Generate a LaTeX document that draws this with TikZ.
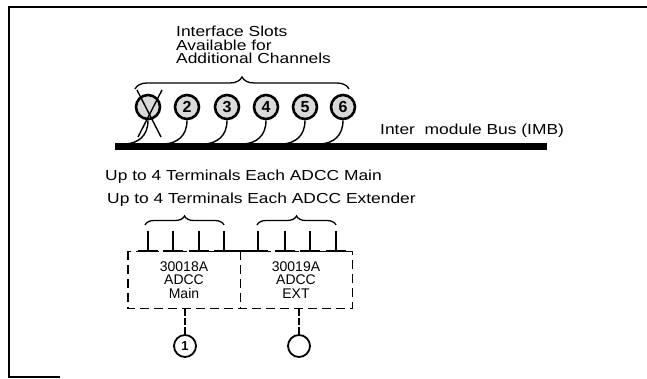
\documentclass[tikz,border=0pt]{standalone}
\usepackage{fontspec}
\setmainfont{Liberation Sans}
\newfontfamily\widesans[FakeStretch=1.2]{Liberation Sans}
\usetikzlibrary{calc,decorations.pathreplacing}

\begin{document}
\begin{tikzpicture}[x=1pt, y=-1pt,
  slot/.style={circle, draw, line width=2.6pt, fill=gray!30, minimum size=24pt, inner sep=0pt, font=\fontsize{16}{16}\selectfont\bfseries},
  port/.style={circle, draw, line width=1.8pt, fill=white, minimum size=22pt, inner sep=0pt, font=\fontsize{13}{13}\selectfont\bfseries},
  lbl/.style={font=\widesans\fontsize{14.5}{13}\selectfont, inner sep=0pt},
  card/.style={font=\fontsize{14}{13.5}\selectfont, align=center, inner sep=0pt, minimum width=112pt, minimum height=57pt},
  dsh/.style={line width=1.4pt, dash pattern=on 9pt off 5pt},
  br/.style={decorate, decoration={brace, amplitude=#1}, line width=1.3pt},
  tap/.style={line width=1.4pt}
]
\useasboundingbox (0,0) rectangle (647,379);
% frame
\draw[line width=1.6pt] (647,7) -- (9,7) -- (9,377) -- (60,377);

% inter module bus
\node[fill, inner sep=0pt, minimum width=432pt, minimum height=7pt] (bus) at (331,147) {};
\node[lbl, anchor=west] (imb) at (380,131) {Inter\ \ module Bus (IMB)};
\node[lbl, align=left, anchor=north west, font=\widesans\fontsize{14.5}{13.5}\selectfont] (slots) at (176,26) {Interface Slots\\Available for\\Additional Channels};
\draw[br=12pt] (135,89) -- (349,89);

\foreach \i/\x/\t in {1/148/{},2/187/2,3/227/3,4/266/4,5/305/5,6/343/6} {
  \node[slot] (s\i) at (\x,107) {\t};
  \coordinate (j\i) at ({\x-22},144);
  \draw[tap] (s\i.south) .. controls +(0,16) and +(12,-1) .. (j\i);
}
\draw[tap] (137,90) -- (161,137);
\draw[tap] (162,90) -- (138,137);

% ADCC cards
\node[lbl, anchor=west] (tm) at (105,177) {Up to 4 Terminals Each ADCC Main};
\node[lbl, anchor=west] (te) at (107,200) {Up to 4 Terminals Each ADCC Extender};
\node[card] (main) at (184,280) {30018A\\ADCC\\Main};
\node[card] (ext) at (296,280) {30019A\\ADCC\\EXT};
\draw[dsh] (main.north west) rectangle (ext.south east);
\draw[dsh] (main.north east) -- (main.south east);
\draw[br=9pt] (145,225) -- (224,225);
\draw[br=9pt] (257,225) -- (336,225);
\foreach \x in {148,173,199,224,258,285,310,336} {
  \draw[tap] (\x,231) -- (\x,251);
  \draw[tap] ({\x-10},251) -- ({\x+10},251);
}
\draw[tap] (224,251) -- (258,251);

\node[port] (p1) at (185,346) {1};
\node[port] (p2) at (299,346) {};
\draw[tap, dash pattern=on 7pt off 2pt] (p1 |- main.south) -- (p1.north);
\draw[tap, dash pattern=on 7pt off 2pt] (p2 |- ext.south) -- (p2.north);
\end{tikzpicture}
\end{document}
